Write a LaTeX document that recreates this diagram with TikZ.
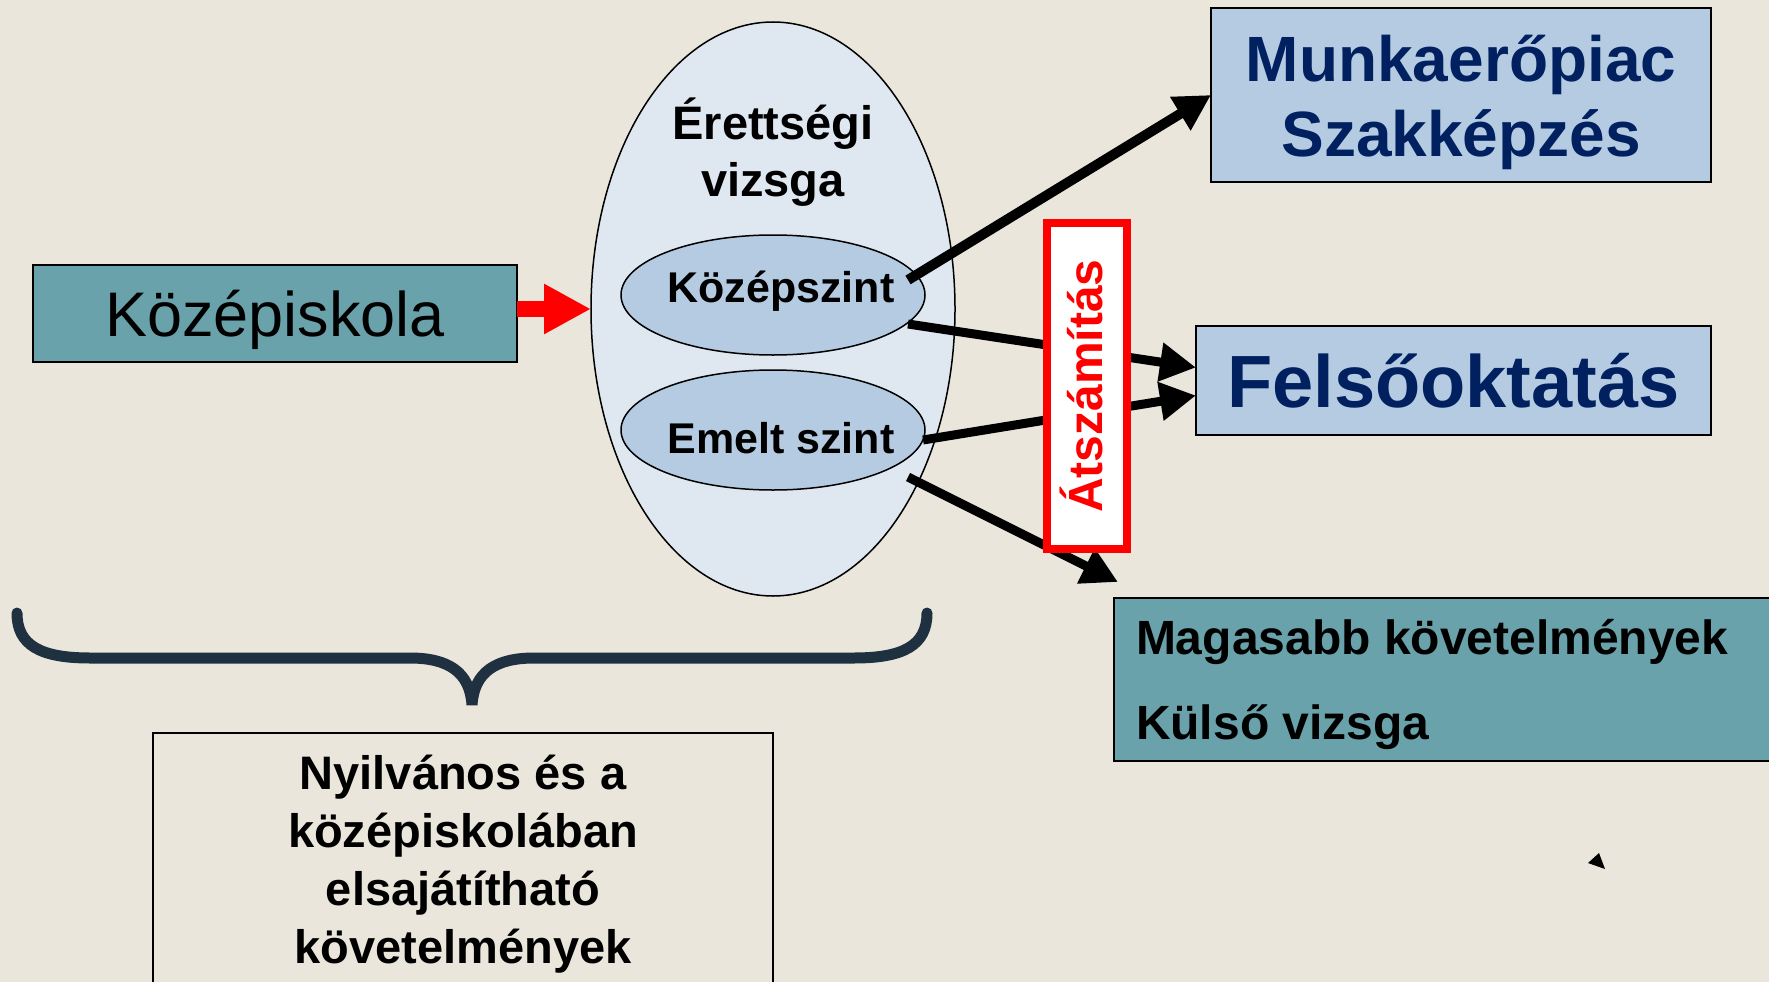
\documentclass[tikz,border=0pt]{standalone}
\usepackage{fontspec}
\setmainfont{Liberation Sans}
\usetikzlibrary{shapes.geometric,arrows.meta}
\definecolor{bgc}{HTML}{EAE6DC}
\definecolor{tealc}{HTML}{69A2AA}
\definecolor{lbluec}{HTML}{B5CBE2}
\definecolor{palec}{HTML}{DFE7F1}
\definecolor{navyc}{HTML}{002060}
\definecolor{bracec}{HTML}{1F3041}
\begin{document}
\begin{tikzpicture}[x=1pt,y=-1pt,
  every node/.style={inner sep=0pt, outer sep=0pt},
  boxline/.style={draw=black, line width=1.5pt},
  lvl/.style={boxline, ellipse, fill=lbluec, minimum width=304pt, minimum height=120pt},
  lvltext/.style={font=\bfseries\fontsize{43}{50}\selectfont, anchor=base},
  bigarrow/.style={line width=9pt, -{Triangle[length=36pt,width=37pt]}},
  bigtext/.style={font=\bfseries\fontsize{47}{57}\selectfont, align=center}]
\useasboundingbox (0,0) rectangle (1769,982);
\fill[bgc] (0,0) rectangle (1769,982);

% left box
\node[boxline, fill=tealc, minimum width=484pt, minimum height=97pt] (kisk) at (275,313.5) {};
\node[font=\fontsize{63}{70}\selectfont] (kiskt) at (275,320) {Középiskola};

% big ellipse
\node[boxline, ellipse, fill=palec, minimum width=364pt, minimum height=574pt] (big) at (773,309) {};
\node[bigtext] (erett) at (773,152) {Érettségi\\vizsga};
\node[lvl] (kozep) at (773,295) {};
\node[lvl] (emelt) at (773,430) {};
\node[lvltext] (kozept) at (781,302) {Középszint};
\node[lvltext] (emeltt) at (781,453.5) {Emelt szint};

% red arrow
\draw[red, line width=16pt, -{Triangle[length=47pt,width=47pt]}] (kisk.east |- big.west) -- (big.west);

% right boxes
\node[boxline, fill=lbluec, minimum width=500pt, minimum height=174pt] (munka) at (1461,95) {};
\node[font=\bfseries\fontsize{64}{75}\selectfont, text=navyc, align=center] (munkat) at (1461,102)
  {Munkaerőpiac\\Szakképzés};
\node[boxline, fill=lbluec, minimum width=515pt, minimum height=109pt,
  font=\bfseries\fontsize{74}{80}\selectfont, text=navyc] (felso) at (1453.5,380.5) {Felsőoktatás};
\node[boxline, fill=tealc, minimum width=670pt, minimum height=163pt, anchor=north west] (magas) at (1114,598) {};
\node[font=\bfseries\fontsize{48}{85}\selectfont, align=left, anchor=west] (magast) at (1136,684.5)
  {Magasabb követelmények\\Külső vizsga};

% arrows
\coordinate (s1) at (908,280);
\coordinate (s2) at (908,324);
\coordinate (s3) at (923,440);
\coordinate (s4) at (908,477);
\coordinate (e4) at (1118,582);
\draw[bigarrow, line width=10pt] (s1) -- (munka.west);
\draw[bigarrow] (s2) -- ([yshift=13pt]felso.west);
\draw[bigarrow] (s3) -- ([yshift=-15pt]felso.west);
\draw[bigarrow] (s4) -- (e4);

% Atszamitas box
\node[draw=red, line width=8pt, fill=white, minimum width=80pt, minimum height=326pt] (atsz) at (1087,386) {};
\node[text=red, font=\bfseries\fontsize{48}{50}\selectfont] (atszt) at (1081,386)
  {\rotatebox{90}{Átszámítás}};

% brace
\draw[bracec, line width=11pt, line cap=round]
  (17,613) .. controls (17,645) and (40,658) .. (90,658) -- (410,658)
  .. controls (448,658) and (470,672) .. (472,705)
  .. controls (474,672) and (496,658) .. (534,658) -- (854,658)
  .. controls (904,658) and (927,645) .. (927,613);

% bottom box
\node[boxline, minimum width=620pt, minimum height=280pt, anchor=north west] (bottombox) at (153,733) {};
\node[font=\bfseries\fontsize{47}{58}\selectfont, align=center] (bottomt) at (463,864) {Nyilvános és a\\középiskolában\\elsajátítható\\követelmények};

% stray arrow tip
\fill[black] (1588,863) -- (1599,853) -- (1605,869) -- cycle;
\end{tikzpicture}
\end{document}
